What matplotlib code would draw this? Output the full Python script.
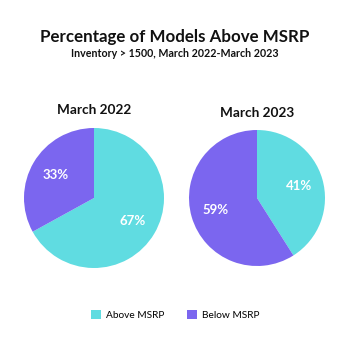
import matplotlib
matplotlib.use("Agg")
import matplotlib.pyplot as plt
from matplotlib.patches import Patch

plt.rcParams['font.family'] = ['Lato', 'DejaVu Sans']

# data
categories = ['Above MSRP', 'Below MSRP']
years = ['March 2022', 'March 2023']
share_2022 = [67, 33]
share_2023 = [41, 59]
colors = ['#60DCE1', '#7B66EF']

fig = plt.figure(figsize=(3.5, 3.5), dpi=100)
fig.patch.set_facecolor('white')

fig.text(0.5, 0.893, 'Percentage of Models Above MSRP', ha='center', va='center',
         fontsize=12.2, fontweight='bold', color='#111111')
fig.text(0.5, 0.848, 'Inventory > 1500, March 2022-March 2023', ha='center', va='center',
         fontsize=7.7, fontweight='bold', color='#111111')

# pie axes: [left, bottom, width, height] in figure coords
boxes = [[24/350, 1 - 268/350, 140/350, 140/350],
         [189/350, 1 - 266/350, 136/350, 136/350]]
title_y = [110, 113]

for i, vals in enumerate([share_2022, share_2023]):
    ax = fig.add_axes(boxes[i])
    wedges, texts, autotexts = ax.pie(vals, colors=colors, startangle=90, counterclock=False,
                                      autopct=lambda p: '%d%%' % round(p), pctdistance=0.64,
                                      wedgeprops=dict(linewidth=0))
    for t in autotexts:
        t.set_color('white')
        t.set_fontsize(9.5)
        t.set_fontweight('bold')
    ax.set_aspect('equal')
    ax.set_xlim(-1, 1)
    ax.set_ylim(-1, 1)
    cx = boxes[i][0] + boxes[i][2] / 2
    fig.text(cx, 1 - title_y[i] / 350, years[i], ha='center', va='center',
             fontsize=9.8, fontweight='bold', color='#111111')

handles = [Patch(facecolor=c, edgecolor='none') for c in colors]
fig.legend(handles, categories, loc='center', bbox_to_anchor=(0.5, 1 - 315/350), ncol=2,
           frameon=False, fontsize=7.3, handlelength=1.0, handleheight=1.0,
           columnspacing=2.2, handletextpad=0.5)

fig.savefig('out.png', dpi=100)
